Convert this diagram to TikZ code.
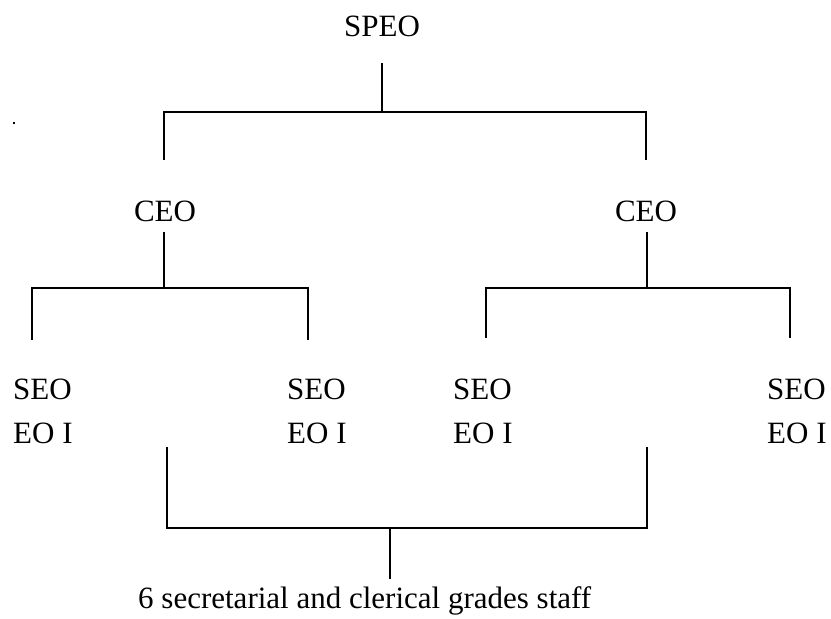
\documentclass[tikz,border=0pt]{standalone}
\usepackage{fontspec}
\setmainfont{Liberation Serif}
\usepackage{tikz}
\usetikzlibrary{positioning}
\tikzstyle{line}=[draw,line width=1.5pt]
\tikzstyle{post}=[inner sep=0pt,anchor=base west,font=\fontsize{31}{37}\selectfont]

\begin{document}
\begin{tikzpicture}[x=1pt,y=-1pt]
\useasboundingbox (0,0) rectangle (831,619);
\node[post,anchor=base](speo) at (382,36){SPEO};
\node[post,anchor=base](ceoa) at (165,221){CEO};
\node[post,anchor=base](ceob) at (646,221){CEO};
\node[post](seoa) at (13,399){SEO};
\node[post](eoa) at (13,443){EO I};
\node[post](seob) at (287,399){SEO};
\node[post](eob) at (287,443){EO I};
\node[post](seoc) at (453,399){SEO};
\node[post](eoc) at (453,443){EO I};
\node[post](seod) at (767,399){SEO};
\node[post](eod) at (767,443){EO I};
\node[post](staff) at (138,608){6 secretarial and clerical grades staff};
\fill (13,122) rectangle (15,124);
% SPEO to the two CEO
\coordinate (speotop) at (382,63);
\coordinate (speobar) at (382,112);
\coordinate (ceoatop) at (164,160);
\coordinate (ceobtop) at (646,160);
\draw[line] (speotop)--(speobar);
\draw[line] (ceoatop)--(ceoatop|-speobar)--(ceobtop|-speobar)--(ceobtop);
% left CEO
\coordinate (ceoalow) at (164,232);
\coordinate (ceoabar) at (164,288);
\coordinate (seoatop) at (32,340);
\coordinate (seobtop) at (308,340);
\draw[line] (ceoalow)--(ceoabar);
\draw[line] (seoatop)--(seoatop|-ceoabar)--(seobtop|-ceoabar)--(seobtop);
% right CEO
\coordinate (ceoblow) at (647,232);
\coordinate (ceobbar) at (647,288);
\coordinate (seoctop) at (486,338);
\coordinate (seodtop) at (790,338);
\draw[line] (ceoblow)--(ceobbar);
\draw[line] (seoctop)--(seoctop|-ceobbar)--(seodtop|-ceobbar)--(seodtop);
% staff
\coordinate (staffa) at (167,447);
\coordinate (staffb) at (647,447);
\coordinate (staffbar) at (390,528);
\coordinate (stafftop) at (390,579);
\draw[line] (staffa)--(staffa|-staffbar)--(staffb|-staffbar)--(staffb);
\draw[line] (staffbar)--(stafftop);
\end{tikzpicture}
\end{document}
